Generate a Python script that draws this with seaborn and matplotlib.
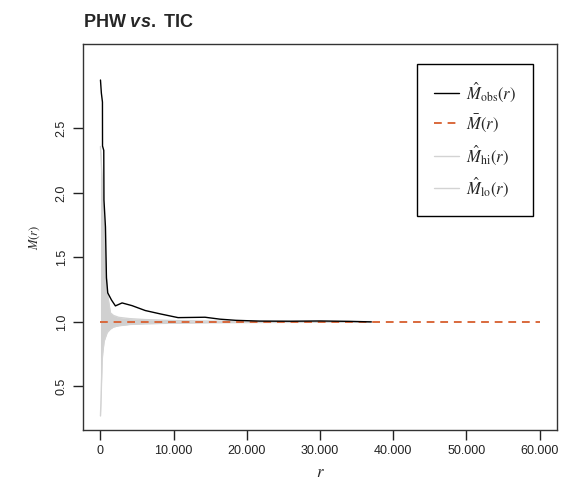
import matplotlib
matplotlib.use("Agg")
import matplotlib.pyplot as plt
import matplotlib.ticker as mticker
import seaborn as sns

# observed M(r)
r_obs = [0, 120, 270, 280, 450, 476, 680, 816, 993, 1500, 2040, 2950, 4310,
         6120, 8160, 10600, 14290, 16330, 18500, 21770, 26000, 30000, 34000, 37000]
m_obs = [2.876, 2.775, 2.705, 2.364, 2.33, 1.946, 1.736, 1.341, 1.225, 1.17, 1.124, 1.147, 1.126,
         1.088, 1.062, 1.033, 1.036, 1.021, 1.012, 1.006, 1.005, 1.007, 1.004, 1.0]

# simulation envelope
r_env = [0, 100, 230, 310, 500, 680, 900, 950, 1360, 1770, 2500, 4000,
         6000, 10000, 15000, 25000, 37000]
m_hi = [2.36, 2.25, 2.10, 2.0, 1.75, 1.48, 1.26, 1.22, 1.07, 1.05, 1.035, 1.025,
        1.018, 1.01, 1.006, 1.004, 1.002]
m_lo = [0.27, 0.45, 0.70, 0.76, 0.85, 0.88, 0.915, 0.92, 0.945, 0.96, 0.97, 0.98,
        0.985, 0.99, 0.994, 0.996, 0.998]

# theoretical
r_theo = [0, 60000]
m_theo = [1.0, 1.0]

x_ticks = [0, 10000, 20000, 30000, 40000, 50000, 60000]
y_ticks = [0.5, 1.0, 1.5, 2.0, 2.5]

sns.set_style("ticks")
plt.rcParams["font.family"] = ["Liberation Sans", "DejaVu Sans"]
plt.rcParams["mathtext.fontset"] = "stix"
plt.rcParams["mathtext.it"] = "Liberation Sans:italic:bold"
plt.rcParams["mathtext.rm"] = "Liberation Sans:bold"

fig = plt.figure(figsize=(5.64, 4.84), dpi=100)
ax = fig.add_axes([0.147, 0.112, 0.841, 0.797])

ax.fill_between(r_env, m_lo, m_hi, color="#d0d0d0", lw=0, zorder=1)
sns.lineplot(x=r_obs, y=m_obs, color="black", lw=1, sort=False, ax=ax,
             label=r"$\hat{M}_{\mathrm{obs}}(r)$", zorder=4)
sns.lineplot(x=r_theo, y=m_theo, color="#d9693c", lw=1.4, ax=ax,
             label=r"$\bar{M}(r)$", zorder=3, dashes=False)
ax.lines[-1].set_dashes([4, 3])
sns.lineplot(x=r_env, y=m_hi, color="#d3d3d3", lw=1, ax=ax,
             label=r"$\hat{M}_{\mathrm{hi}}(r)$", zorder=2)
sns.lineplot(x=r_env, y=m_lo, color="#d3d3d3", lw=1, ax=ax,
             label=r"$\hat{M}_{\mathrm{lo}}(r)$", zorder=2)

ax.set_xlim(-2400, 62400)
ax.set_ylim(0.163, 3.155)
ax.set_xticks(x_ticks)
ax.xaxis.set_major_formatter(mticker.FuncFormatter(lambda v, p: f"{int(v):,}".replace(",", ".")))
ax.set_yticks(y_ticks)
ax.tick_params(axis="both", direction="out", length=7, width=1, colors="#222222",
               labelsize=9, pad=4)
for lab in ax.get_yticklabels():
    lab.set_rotation(90)
    lab.set_va("center")

for s in ax.spines.values():
    s.set_visible(True)
    s.set_color("#333333")
    s.set_linewidth(1)

ax.set_xlabel("$r$", fontsize=12, labelpad=6)
ax.set_ylabel("$M(r)$", fontsize=9, labelpad=10)

ax.set_title("PHW $\\mathit{vs.}$ TIC", loc="left", fontsize=13, fontweight="bold",
             math_fontfamily="custom", pad=12)

leg = ax.legend(loc="upper right", bbox_to_anchor=(0.949, 0.948), frameon=True,
                fancybox=False, edgecolor="black", fontsize=12, handlelength=1.5,
                labelspacing=0.55, borderpad=1.0, handletextpad=0.45,
                borderaxespad=0)
leg.get_frame().set_linewidth(1)
leg.get_frame().set_alpha(1)

fig.savefig("out.png", dpi=100)
